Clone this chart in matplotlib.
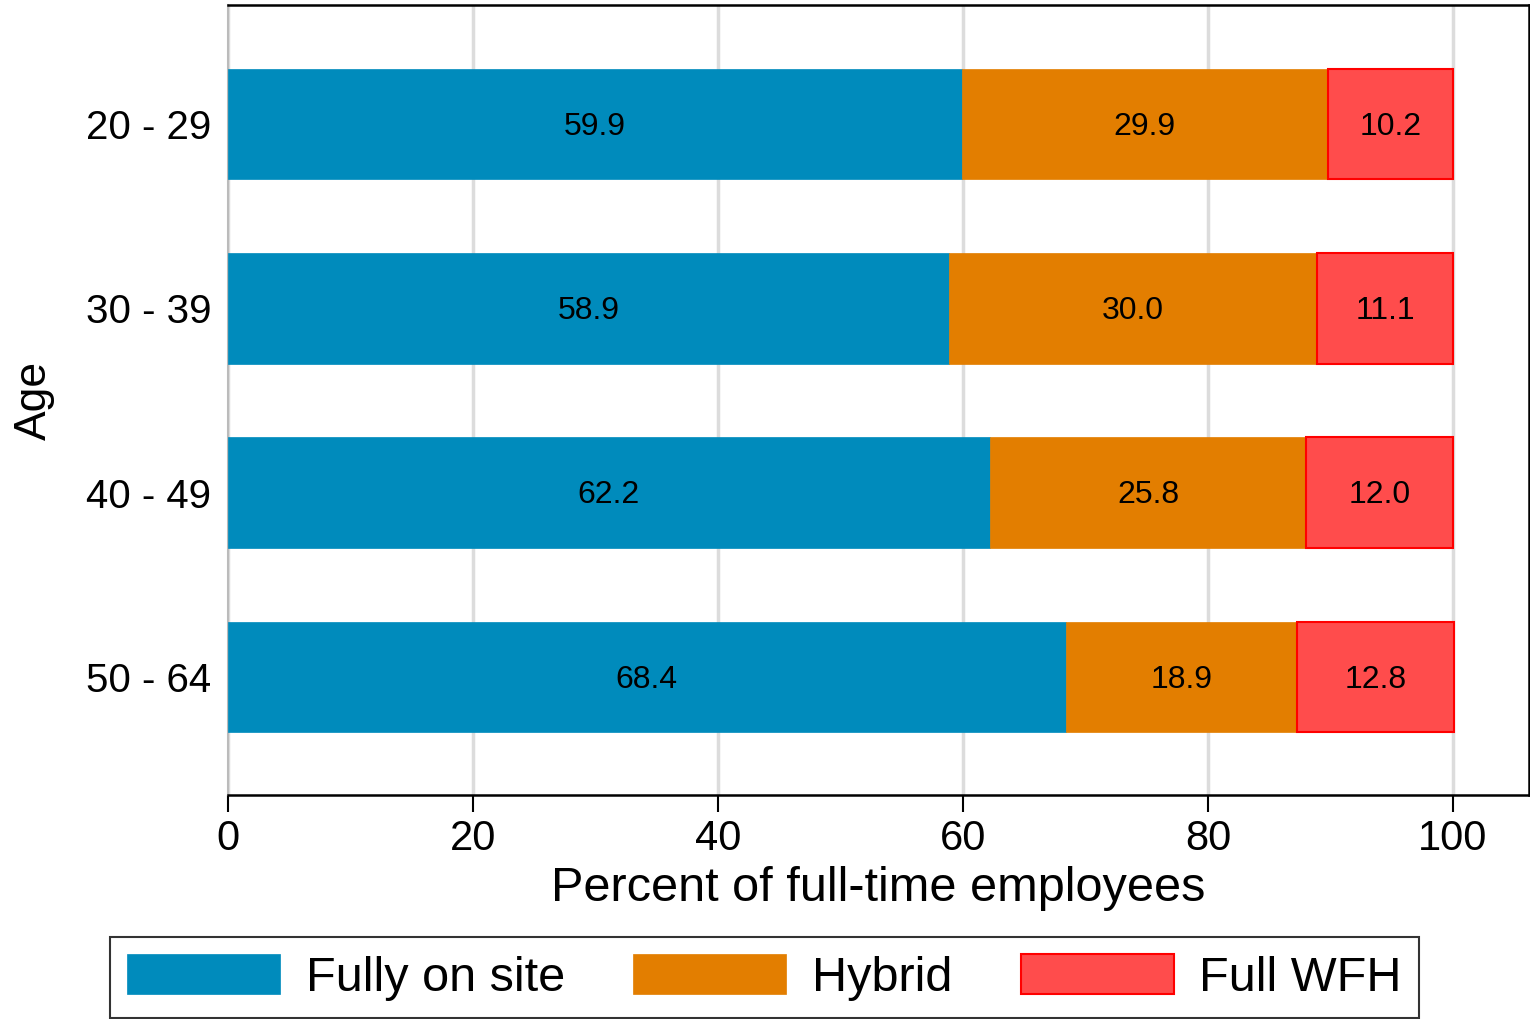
import numpy as np
import matplotlib
matplotlib.use('Agg')
import matplotlib.pyplot as plt

plt.rcParams['font.family'] = ['Liberation Sans', 'DejaVu Sans']

ages = ['20 - 29', '30 - 39', '40 - 49', '50 - 64']
onsite = [59.9, 58.9, 62.2, 68.4]
hybrid = [29.9, 30.0, 25.8, 18.9]
wfh = [10.2, 11.1, 12.0, 12.8]
series_names = ['Fully on site', 'Hybrid', 'Full WFH']

fig = plt.figure(figsize=(15.3, 10.19), dpi=100)
ax = fig.add_axes([0.149, 0.2198, 0.8503, 0.7752])

y = np.arange(len(ages))
h = 0.6
b1 = ax.barh(y, onsite, height=h, color='#008bbc', edgecolor='#008bbc', lw=0.5,
             label=series_names[0], zorder=3)
b2 = ax.barh(y, hybrid, height=h, left=onsite, color='#e37e00', edgecolor='#e37e00',
             lw=0.5, label=series_names[1], zorder=3)
left3 = np.array(onsite) + np.array(hybrid)
b3 = ax.barh(y, wfh, height=h, left=left3, color='#ff4c4c', edgecolor='#ff0000',
             lw=1.5, label=series_names[2], zorder=3)

# подписи значений по центру сегментов
for bars in (b1, b2, b3):
    for t in ax.bar_label(bars, fmt='%.1f', label_type='center', fontsize=23, color='black'):
        t.set_va('center')
        t.xyann = (0, -2)

ax.set_xlim(0, 106.2)
ax.set_ylim(3.64, -0.645)
ax.set_xticks([0, 20, 40, 60, 80, 100])
ax.set_yticks(y)
ax.set_yticklabels(ages)
ax.grid(axis='x', color='#dcdcdc', lw=2.5, zorder=0)
ax.tick_params(axis='x', labelsize=30, length=12, width=1.5, pad=5)
ax.tick_params(axis='y', labelsize=29, length=0, pad=12)
for s in ('top', 'right', 'bottom'):
    ax.spines[s].set_color('black')
    ax.spines[s].set_linewidth(1.8)
ax.spines['left'].set_color('#bbbbbb')
ax.spines['left'].set_linewidth(1.5)

ax.set_xlabel('Percent of full-time employees', fontsize=35, labelpad=5)
ax.set_ylabel('Age', fontsize=32, labelpad=22)

leg = fig.legend(handles=[b1, b2, b3], loc='lower center', bbox_to_anchor=(0.4997, 0.001), ncol=3,
                 fontsize=35, frameon=True, fancybox=False, edgecolor='black',
                 handlelength=3.15, handleheight=0.9, columnspacing=1.4, handletextpad=0.53,
                 borderpad=0.35, borderaxespad=0)
leg.get_frame().set_linewidth(1.5)

fig.savefig('out.png', dpi=100)
